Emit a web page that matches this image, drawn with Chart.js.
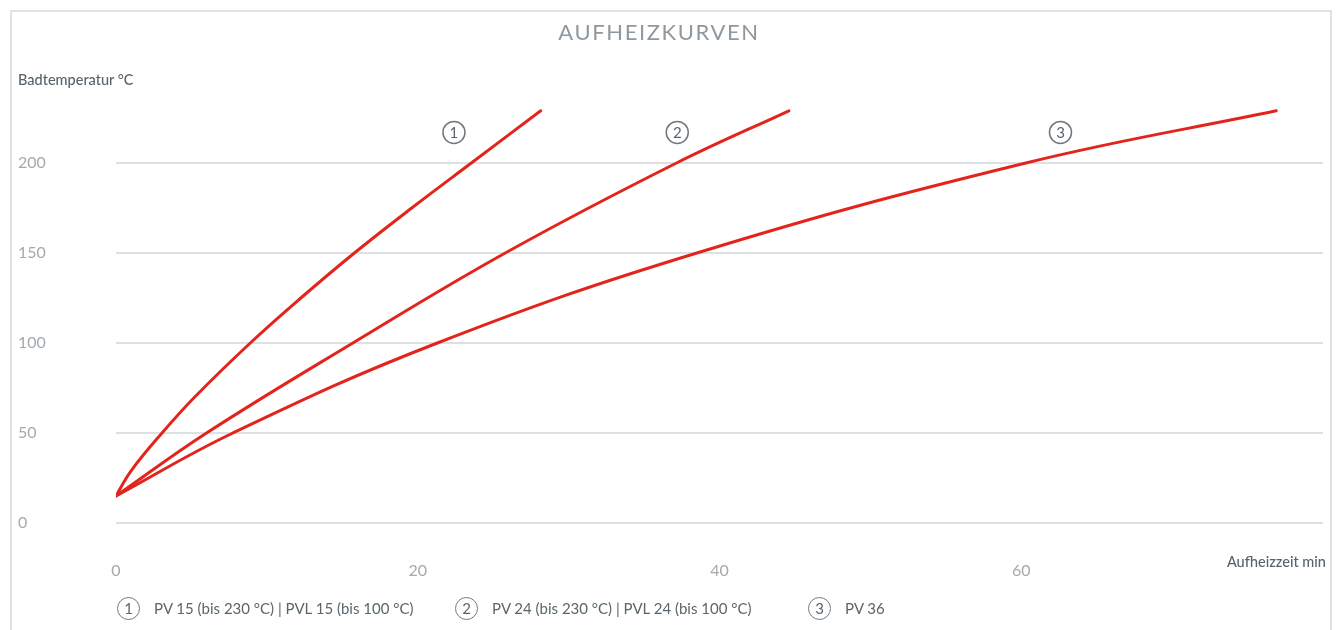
<!DOCTYPE html>
<html>
<head>
<meta charset="utf-8">
<script src="https://cdn.jsdelivr.net/npm/chart.js@4.4.1/dist/chart.umd.min.js"></script>
<style>
html,body{margin:0;padding:0;background:#fff;}
body{width:1338px;height:630px;position:relative;overflow:hidden;font-family:Lato,"Open Sans",sans-serif;}
#frame{position:absolute;left:10px;top:10px;width:1318px;height:660px;border:2px solid #e2e2e2;border-bottom:none;box-sizing:content-box;}
#c{position:absolute;left:0;top:0;}
#title{position:absolute;left:0;width:1318px;top:21px;text-align:center;font-size:22px;line-height:22px;letter-spacing:1.6px;color:#8e989e;font-weight:400;}
#ylab{position:absolute;left:18px;top:72px;font-size:14.5px;line-height:16px;color:#58636a;font-weight:500;}
#xlab{position:absolute;right:12px;top:554px;font-size:14.5px;line-height:16px;color:#58636a;font-weight:500;}
.leg{position:absolute;top:596px;height:24px;display:flex;align-items:center;font-size:15px;color:#5b666c;white-space:nowrap;}
.num{display:inline-flex;align-items:center;justify-content:center;width:21px;height:21px;border:1.5px solid #6f7a80;border-radius:50%;font-size:15px;color:#5b666c;margin-right:14px;line-height:1;}
</style>
</head>
<body>
<div id="frame"></div>
<canvas id="c" width="1338" height="630"></canvas>
<div id="title">AUFHEIZKURVEN</div>
<div id="ylab">Badtemperatur °C</div>
<div id="xlab">Aufheizzeit min</div>
<div class="leg" style="left:117px"><span class="num">1</span>PV 15 (bis 230 °C) | PVL 15 (bis 100 °C)</div>
<div class="leg" style="left:455px"><span class="num">2</span>PV 24 (bis 230 °C) | PVL 24 (bis 100 °C)</div>
<div class="leg" style="left:808px"><span class="num">3</span>PV 36</div>
<script>
// Data (minutes vs. bath temperature °C)
const curve1X = [0, 1.0, 3.05, 5.22, 8.9, 12.25, 15.8, 19.6, 23.55, 28.15];
const curve1Y = [15, 29, 50, 70, 100, 125, 150, 175, 200, 229];
const curve2X = [0, 6.0, 15.7, 25.8, 37.15, 44.6];
const curve2Y = [15, 50, 100, 150, 200, 229];
const curve3X = [0, 7.75, 21.3, 38.5, 60.3, 76.9];
const curve3Y = [15, 50, 100, 150, 200, 229];
const seriesNames = ['PV 15 (bis 230 °C) | PVL 15 (bis 100 °C)', 'PV 24 (bis 230 °C) | PVL 24 (bis 100 °C)', 'PV 36'];
const xTicks = [0, 20, 40, 60];
const yTicks = [0, 50, 100, 150, 200];
const curveLabels = ['1', '2', '3'];
const curveLabelX = [22.4, 37.2, 62.6];
const curveLabelY = [217, 217, 217];

const toPts = (xs, ys) => xs.map((x, i) => ({x: x, y: ys[i]}));
const RED = '#e3241c';
const GREY_CIRCLE = '#6f7a80';

const curveLabelPlugin = {
  id: 'curveLabels',
  afterDatasetsDraw(chart) {
    const ctx = chart.ctx, xs = chart.scales.x, ys = chart.scales.y;
    ctx.save();
    curveLabels.forEach((t, i) => {
      const px = xs.getPixelForValue(curveLabelX[i]);
      const py = ys.getPixelForValue(curveLabelY[i]);
      ctx.beginPath();
      ctx.arc(px, py, 11, 0, Math.PI * 2);
      ctx.lineWidth = 1.5;
      ctx.strokeStyle = GREY_CIRCLE;
      ctx.stroke();
      ctx.fillStyle = '#5b666c';
      ctx.font = '15px Lato, "Open Sans", sans-serif';
      ctx.textAlign = 'center';
      ctx.textBaseline = 'middle';
      ctx.fillText(t, px, py + 1);
    });
    ctx.restore();
  }
};

new Chart(document.getElementById('c'), {
  type: 'line',
  data: {
    datasets: [
      {label: seriesNames[0], data: toPts(curve1X, curve1Y)},
      {label: seriesNames[1], data: toPts(curve2X, curve2Y)},
      {label: seriesNames[2], data: toPts(curve3X, curve3Y)}
    ].map(d => Object.assign(d, {
      borderColor: RED, borderWidth: 3, pointRadius: 0, fill: false,
      tension: 0.4, borderCapStyle: 'round'
    }))
  },
  options: {
    responsive: false,
    animation: false,
    devicePixelRatio: 1,
    layout: {padding: {left: 18, right: 15, top: 73, bottom: 0}},
    plugins: {legend: {display: false}, tooltip: {enabled: false}, title: {display: false}},
    scales: {
      x: {
        type: 'linear', min: 0, max: 80,
        grid: {display: false},
        border: {display: false},
        afterBuildTicks: s => { s.ticks = xTicks.map(v => ({value: v})); },
        afterFit: s => { s.height = 107; },
        ticks: {color: '#a2aaaf', padding: 30, maxRotation: 0, font: {family: 'Lato', size: 16, weight: 400}}
      },
      y: {
        type: 'linear', min: 0, max: 250,
        grid: {color: '#dde1e4', lineWidth: 2, drawTicks: false},
        border: {display: false},
        afterBuildTicks: s => { s.ticks = yTicks.map(v => ({value: v})); },
        afterFit: s => { s.width = 98; },
        ticks: {color: '#a2aaaf', padding: 0, crossAlign: 'far', font: {family: 'Lato', size: 16, weight: 400}}
      }
    }
  },
  plugins: [curveLabelPlugin]
});
</script>
</body>
</html>
